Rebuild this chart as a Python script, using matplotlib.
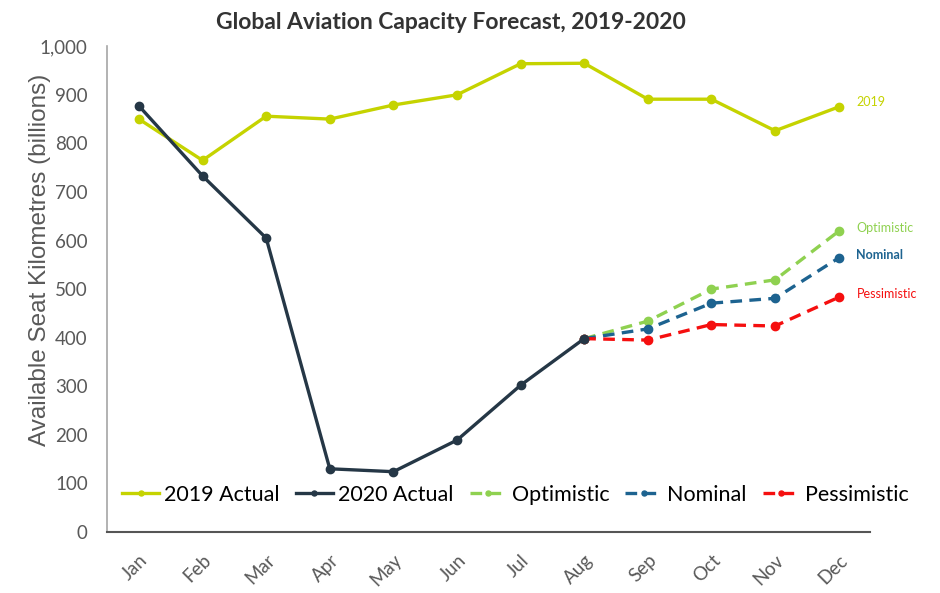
import matplotlib.pyplot as plt
from matplotlib.ticker import FuncFormatter

months = ["Jan", "Feb", "Mar", "Apr", "May", "Jun",
          "Jul", "Aug", "Sep", "Oct", "Nov", "Dec"]
actual_2019 = [850, 765, 856, 850, 879, 900, 964, 965, 891, 891, 826, 875]
actual_2020 = [877, 733, 605, 130, 124, 189, 302, 398]
# forecasts start from the last actual point (Aug)
forecast_months = ["Aug", "Sep", "Oct", "Nov", "Dec"]
optimistic = [398, 434, 500, 519, 619]
nominal = [398, 418, 471, 481, 564]
pessimistic = [398, 395, 427, 424, 483]

c2019 = "#c5d300"
c2020 = "#253746"
c_opt = "#8fd150"
c_nom = "#1d6390"
c_pes = "#f50f0f"

plt.rcParams['font.family'] = ['Lato', 'DejaVu Sans']

fig = plt.figure(figsize=(9.4, 5.93), dpi=100)
ax = fig.add_axes([0.114, 0.103, 0.812, 0.819])

x_all = list(range(len(months)))
x_2020 = x_all[:len(actual_2020)]
x_fc = [months.index(m) for m in forecast_months]

dash = (0, (3.5, 2.2))
ax.plot(x_all, actual_2019, color=c2019, lw=2.4, marker='o', ms=6, label="2019 Actual", zorder=3)
ax.plot(x_fc, optimistic, color=c_opt, lw=2.4, ls=dash, marker='o', ms=6, label="Optimistic", zorder=3)
ax.plot(x_fc, nominal, color=c_nom, lw=2.4, ls=dash, marker='o', ms=6, label="Nominal", zorder=4)
ax.plot(x_fc, pessimistic, color=c_pes, lw=2.4, ls=dash, marker='o', ms=6, label="Pessimistic", zorder=5)
ax.plot(x_2020, actual_2020, color=c2020, lw=2.4, marker='o', ms=6, label="2020 Actual", zorder=6)

# end-of-line labels
tx = 11.28
ax.text(tx, actual_2019[-1] + 10, "2019", color=c2019, fontsize=9, va='center')
ax.text(tx, optimistic[-1] + 7, "Optimistic", color=c_opt, fontsize=9, va='center')
ax.text(tx, nominal[-1] + 7, "Nominal", color=c_nom, fontsize=9, va='center', fontweight='bold')
ax.text(tx, pessimistic[-1] + 7, "Pessimistic", color=c_pes, fontsize=9, va='center')

ax.set_xlim(-0.5, 11.5)
ax.set_ylim(0, 1000)
ax.set_yticks(range(0, 1001, 100))
ax.yaxis.set_major_formatter(FuncFormatter(lambda v, p: f"{int(v):,}"))
ax.set_xticks(x_all)
ax.set_xticklabels(months, rotation=45, ha='right', rotation_mode='anchor')
ax.tick_params(axis='both', length=0, labelsize=13.5, colors="#595959")
ax.tick_params(axis='y', pad=14)
ax.tick_params(axis='x', pad=14)

for side in ["top", "right"]:
    ax.spines[side].set_visible(False)
ax.spines["left"].set_color("#a6a6a6")
ax.spines["bottom"].set_color("#555555")
ax.spines["left"].set_linewidth(1.2)
ax.spines["bottom"].set_linewidth(1.5)

ax.set_ylabel("Available Seat Kilometres (billions)", fontsize=17.5, color="#595959",
              family=['Liberation Sans', 'DejaVu Sans'])
ax.yaxis.set_label_coords(-0.074, 0.56)
fig.text(0.48, 0.962, "Global Aviation Capacity Forecast, 2019-2020", ha='center', va='center',
         fontsize=16.5, color="#333333", fontweight='bold')

handles, labels = ax.get_legend_handles_labels()
order = [0, 4, 1, 2, 3]
ax.legend([handles[i] for i in order], [labels[i] for i in order], ncol=5, frameon=False,
          loc='center', bbox_to_anchor=(0.535, 0.077), handlelength=1.7,
          handletextpad=0.25, columnspacing=0.75, markerscale=0.6,
          prop={'size': 15.5})

fig.savefig("out.png", dpi=100)
